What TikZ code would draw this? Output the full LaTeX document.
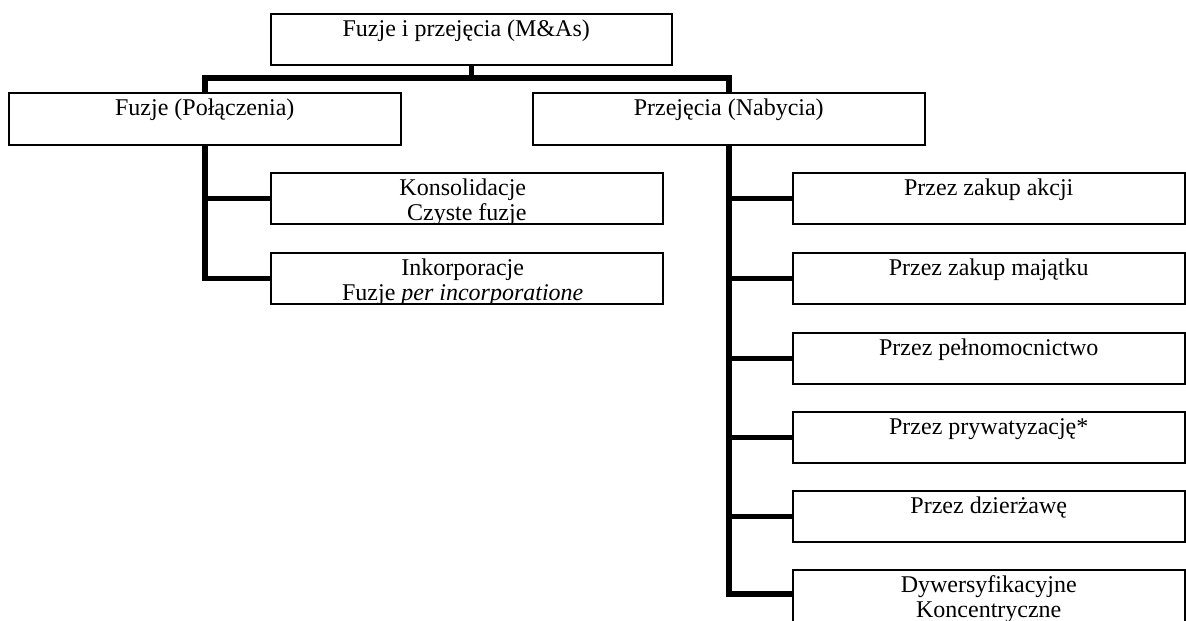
\documentclass[tikz,border=0pt]{standalone}
\usepackage{fontspec}
\setmainfont{Liberation Serif}
\begin{document}
\begin{tikzpicture}[x=1pt,y=-1pt,
  box/.style={draw, line width=1.5pt, fill=white, rectangle, inner sep=0pt,
    anchor=north west, minimum width=392pt, minimum height=51pt},
  lab/.style={anchor=base, inner sep=0pt, font=\fontsize{24}{25}\selectfont},
  conn/.style={line width=5.5pt, line join=miter},
  % one or two text lines, clipped to the box outline
  line one/.style={path picture={\node[lab] (#1-a) at ([yshift=-23pt]path picture bounding box.north) {\csname txt#1a\endcsname};}},
  line two/.style={path picture={
    \node[lab] (#1-a) at ([yshift=-23pt]path picture bounding box.north) {\csname txt#1a\endcsname};
    \node[lab] (#1-b) at ([yshift=-48pt]path picture bounding box.north) {\csname txt#1b\endcsname};}}
]
\useasboundingbox (0,0) rectangle (1186,621);
\clip (0,0) rectangle (1186,621);

% texts of the boxes
\expandafter\def\csname txttopa\endcsname{\hspace*{-10pt}Fuzje i przejęcia (M\&As)}
\expandafter\def\csname txtfuza\endcsname{Fuzje (Połączenia)}
\expandafter\def\csname txtprza\endcsname{Przejęcia (Nabycia)}
\expandafter\def\csname txtkonsa\endcsname{\hspace*{-8pt}Konsolidacje}
\expandafter\def\csname txtkonsb\endcsname{Czyste fuzje}
\expandafter\def\csname txtinkoa\endcsname{\hspace*{-8pt}Inkorporacje}
\expandafter\def\csname txtinkob\endcsname{\hspace*{-8pt}Fuzje \textit{per incorporatione}}
\expandafter\def\csname txtraa\endcsname{Przez zakup akcji}
\expandafter\def\csname txtrba\endcsname{Przez zakup majątku}
\expandafter\def\csname txtrca\endcsname{Przez pełnomocnictwo}
\expandafter\def\csname txtrda\endcsname{Przez prywatyzację*}
\expandafter\def\csname txtrea\endcsname{Przez dzierżawę}
\expandafter\def\csname txtrfa\endcsname{Dywersyfikacyjne}
\expandafter\def\csname txtrfb\endcsname{Koncentryczne}

% level 0 and 1
\node[box, minimum width=401pt, line one=top] (top) at (270,13) {};
\node[box, minimum height=52pt, line one=fuz] (fuz) at (8,92) {};
\node[box, minimum height=52pt, line one=prz] (prz) at (532,92) {};

% mergers
\node[box, line two=kons] (kons) at (270,172) {};
\node[box, line two=inko] (inko) at (270,252) {};

% acquisitions
\node[box, line one=ra] (ra) at (792,172) {};
\node[box, line one=rb] (rb) at (792,252) {};
\node[box, line one=rc] (rc) at (792,332) {};
\node[box, line one=rd] (rd) at (792,411) {};
\node[box, line one=re] (re) at (792,490) {};
\node[box, minimum height=60pt, line two=rf] (rf) at (792,569) {};

% connectors
\coordinate (bus) at (0,78);
\coordinate (rfin) at ([yshift=-25pt]rf.north west);
\draw[conn] (top.south) -- (top.south |- bus);
\draw[conn] (fuz.north) -- (fuz.north |- bus) -- (prz.north |- bus) -- (prz.north);

\draw[conn] (fuz.south) -- (fuz.south |- inko.west) -- (inko.west);
\draw[conn] (fuz.south |- kons.west) -- (kons.west);

\draw[conn] (prz.south) -- (prz.south |- rfin) -- (rfin);
\foreach \n in {ra,rb,rc,rd,re}
  \draw[conn] (prz.south |- \n.west) -- (\n.west);
\end{tikzpicture}
\end{document}
